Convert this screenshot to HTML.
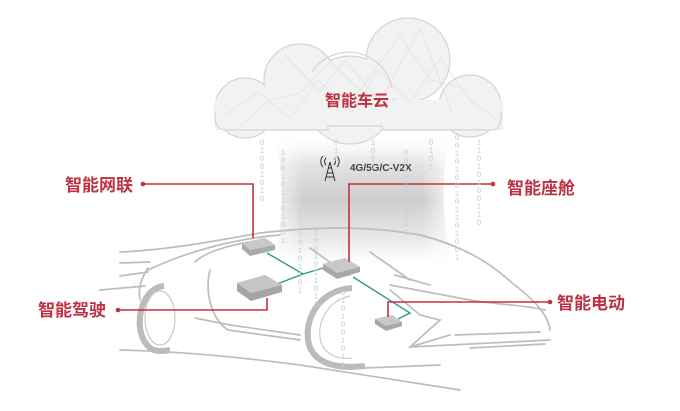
<!DOCTYPE html>
<html><head><meta charset="utf-8"><style>
html,body{margin:0;padding:0;background:#fff;}
body{width:680px;height:411px;overflow:hidden;position:relative;}
svg{position:absolute;left:0;top:0;}
.lbl{font-family:"Liberation Sans","Noto Sans CJK SC",sans-serif;font-weight:bold;fill:#bb3243;font-size:17px;}
.b{position:absolute;width:6px;font-family:"Liberation Mono",monospace;font-size:8px;line-height:8px;color:#c5d3d6;word-break:break-all;text-align:center;}
</style></head><body>
<svg width="680" height="411" viewBox="0 0 680 411" xmlns="http://www.w3.org/2000/svg">
<defs>
<linearGradient id="colv" x1="0" y1="0" x2="0" y2="1">
<stop offset="0" stop-color="#fff" stop-opacity="0"/>
<stop offset="0.25" stop-color="#e2e2e2"/>
<stop offset="0.5" stop-color="#cdcdcd"/>
<stop offset="0.8" stop-color="#ebebeb"/>
<stop offset="1" stop-color="#fff" stop-opacity="0"/>
</linearGradient>
<linearGradient id="colh" x1="0" y1="0" x2="1" y2="0">
<stop offset="0" stop-color="#fff" stop-opacity="1"/>
<stop offset="0.2" stop-color="#fff" stop-opacity="0"/>
<stop offset="0.8" stop-color="#fff" stop-opacity="0"/>
<stop offset="1" stop-color="#fff" stop-opacity="1"/>
</linearGradient>
</defs>
<path d="M272,130 L453,130 C440,170 440,220 455,270 L272,270 C285,220 285,170 272,130 Z" fill="url(#colv)"/>
<rect x="265" y="130" width="195" height="140" fill="url(#colh)"/>
<g fill="#f2f2f2" stroke="#d4d4d4" stroke-width="1.2">
<circle cx="300" cy="80" r="36"/>
<circle cx="408" cy="60" r="42"/>
<circle cx="245" cy="108" r="30"/>
<circle cx="470" cy="106" r="31"/>
<circle cx="350" cy="100" r="44"/>
</g>
<g fill="#f2f2f2">
<rect x="215" y="100" width="288" height="30"/>
<circle cx="300" cy="80" r="35"/>
<circle cx="408" cy="60" r="41"/>
<circle cx="245" cy="108" r="29"/>
<circle cx="470" cy="106" r="30"/>
<circle cx="350" cy="100" r="43"/>
</g>
<g fill="none" stroke="#d4d4d4" stroke-width="1.2">
<path d="M312,72 A44,44 0 0 1 392,88"/>
<path d="M215,112 L215,118 C215,126 220,130 226,130 L328,130 L328,126 L382,126 L382,130 L492,130 C498,130 502,124 501,112"/>
</g>
<g stroke="#dcdcdc" stroke-width="0.6" fill="none">
<path d="M225,115 L258,92 L290,118 L318,80 L352,112 L378,70 L410,102 L440,58 L470,100 L495,118"/>
<path d="M240,126 L270,100 L300,93 L330,62 L360,90 L400,36 L430,80 L462,88"/>
<path d="M285,55 L320,92 L345,60 L380,102 L420,28 L452,112"/>
</g>
<text x="357" y="106" text-anchor="middle" class="lbl" style="font-size:16px">智能车云</text>
<g stroke="#333" stroke-width="1" fill="none">
<path d="M330,162 L325,181 M330,162 L335,181 M327,173 L333,173 M326,177 L334,177 M328,168 L332,168"/>
<path d="M326,158 A5,5 0 0 0 326,165 M334,158 A5,5 0 0 1 334,165 M323,156 A8,8 0 0 0 323,167 M337,156 A8,8 0 0 1 337,167"/>
</g>
<text x="350" y="171" font-family="Liberation Sans,sans-serif" font-weight="bold" font-size="10" fill="#444">4G/5G/C-V2X</text>
<g fill="none" stroke="#bdbdbd" stroke-width="1.7" stroke-linecap="round">
<path d="M120,252 C170,250 220,240 260,233 C320,226 370,226 420,235 C460,245 490,262 512,283 C535,300 548,315 550,330"/>
<path d="M148,270 C190,250 240,238 280,235"/>
<path d="M120,263 L150,262 M120,276 L148,272 M100,290 L145,286"/>
<path d="M148,268 C140,280 138,290 140,300"/>
<path d="M195,262 C205,252 230,245 250,242"/>
<path d="M210,270 C205,290 210,318 228,330 L300,340"/>
<path d="M195,318 L230,325 L300,335"/>
<path d="M120,350 C200,352 260,360 300,365 L460,390"/>
<path d="M370,252 L410,280 M310,248 C330,262 340,270 350,275"/>
<path d="M390,290 L420,315 L440,320 L410,347 L550,340"/>
<path d="M410,347 L450,335 M455,335 L540,332 M470,348 L545,344"/>
<path d="M390,285 L470,300 C500,305 525,305 545,310 M395,275 L430,285"/>
<path d="M365,368 L440,365"/>
</g>
<path d="M164,286 C140,288 132,330 148,346 C152,351 160,352 170,350" fill="none" stroke="#bbbbbb" stroke-width="6"/>
<ellipse cx="160" cy="318" rx="15" ry="27" fill="none" stroke="#c8c8c8" stroke-width="1.2"/>
<path d="M352,288 C322,290 305,315 308,340 C311,360 330,370 365,366" fill="none" stroke="#bbbbbb" stroke-width="6"/>
<path d="M350,296 C330,300 318,318 320,338 C322,352 335,360 352,358" fill="none" stroke="#cccccc" stroke-width="1.2"/>
<g fill="none" stroke="#2e9a85" stroke-width="1.4">
<path d="M267,253 L303,274 L323,268"/>
<path d="M277,284 L303,274"/>
<path d="M353,277 L410,313 L398,319"/>
</g>
<g>
<path d="M242,243 L265,238 L275,245 L275,250 L250,256 L242,249 Z" fill="#aaa"/>
<path d="M242,243 L265,238 L275,245 L250,250 Z" fill="#c8c8c8"/>
<path d="M237,283 L265,275 L282,285 L282,292 L251,301 L237,291 Z" fill="#a5a5a5"/>
<path d="M237,283 L265,275 L282,285 L251,293 Z" fill="#c6c6c6"/>
<path d="M323,264 L345,258 L360,267 L360,272 L337,279 L323,270 Z" fill="#a8a8a8"/>
<path d="M323,264 L345,258 L360,267 L337,273 Z" fill="#c8c8c8"/>
<path d="M375,319 L392,315 L402,322 L402,326 L386,331 L375,324 Z" fill="#a8a8a8"/>
<path d="M375,319 L392,315 L402,322 L386,326 Z" fill="#c8c8c8"/>
</g>
<g fill="none" stroke="#c2303f" stroke-width="1.6">
<path d="M143,184 L253,184 L253,238"/>
<path d="M118,310 L267,310 L267,298"/>
<path d="M493,184 L349,184 L349,262"/>
<path d="M550,302 L388,302 L388,317"/>
</g>
<g fill="#c2303f">
<circle cx="143" cy="184" r="2.3"/><circle cx="118" cy="310" r="2.3"/>
<circle cx="493" cy="184" r="2.3"/><circle cx="550" cy="302" r="2.3"/>
</g>
<text x="65" y="191" class="lbl">智能网联</text>
<text x="38" y="316" class="lbl">智能驾驶</text>
<text x="507" y="194" class="lbl">智能座舱</text>
<text x="557" y="309" class="lbl">智能电动</text>
</svg>
<div class="b" style="left:259px;top:140px">01001010</div>
<div class="b" style="left:280px;top:150px">100101101001</div>
<div class="b" style="left:297px;top:200px">010100101101</div>
<div class="b" style="left:313px;top:230px">1001011010</div>
<div class="b" style="left:333px;top:140px">010</div>
<div class="b" style="left:340px;top:290px">0101001011</div>
<div class="b" style="left:370px;top:140px">1001</div>
<div class="b" style="left:403px;top:150px">00101101001</div>
<div class="b" style="left:428px;top:140px">0101</div>
<div class="b" style="left:454px;top:135px">0010100101101001</div>
<div class="b" style="left:476px;top:140px">11010100110</div>
</body></html>
